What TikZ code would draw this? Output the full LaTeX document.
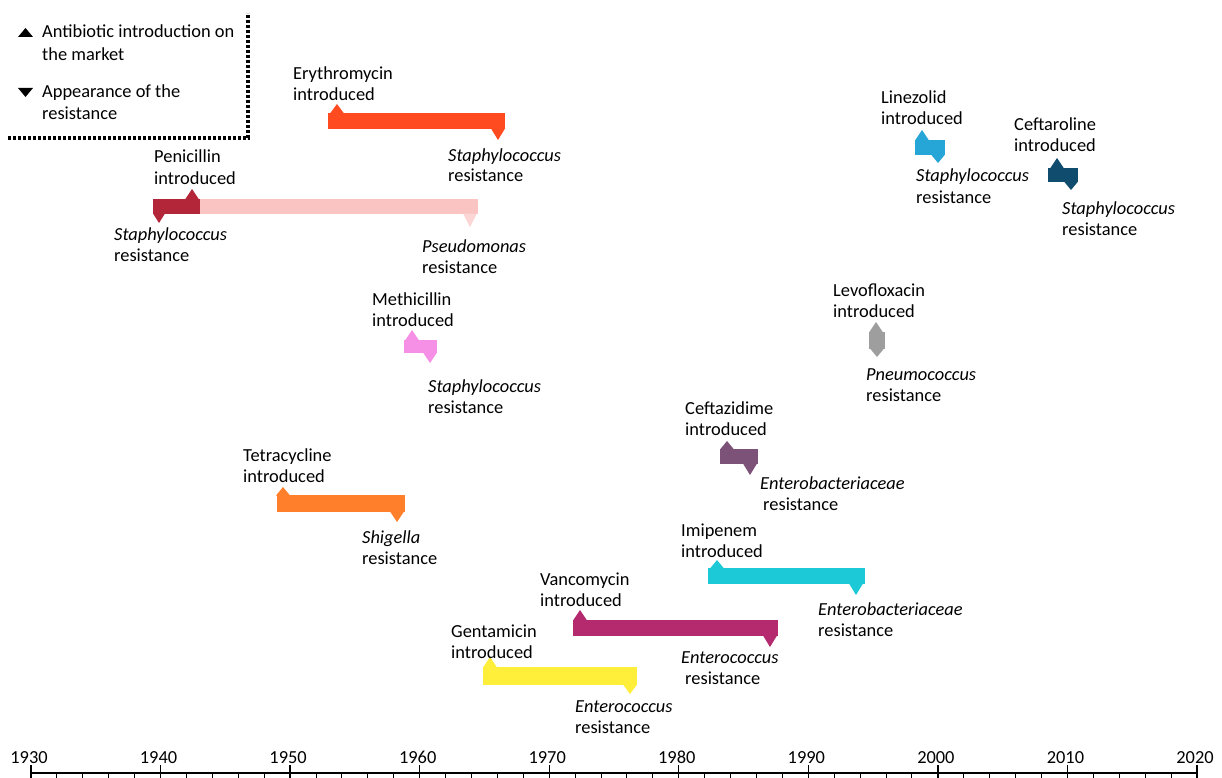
\documentclass[tikz,border=0pt]{standalone}
\usepackage{fontspec}
\setmainfont{Carlito}
\definecolor{ery}{HTML}{FF4B1F}
\definecolor{penD}{HTML}{B3263A}
\definecolor{penL}{HTML}{F9C4C2}
\definecolor{meth}{HTML}{F590E6}
\definecolor{tet}{HTML}{FF7F2A}
\definecolor{gen}{HTML}{FFEF3A}
\definecolor{van}{HTML}{B52A6E}
\definecolor{imi}{HTML}{1CC9D6}
\definecolor{cftz}{HTML}{7D5278}
\definecolor{levo}{HTML}{9E9E9E}
\definecolor{lin}{HTML}{25A6D6}
\definecolor{cftr}{HTML}{0F4C6E}
\newcommand{\abbar}[9]{%
  \fill[#1] (#2,#4) rectangle (#3,#5);
  \fill[#1] ({#6-7},#4+0.5) -- (#6,#7) -- ({#6+7},#4+0.5) -- cycle;
  \fill[#1] ({#8-7},#5-0.5) -- (#8,#9) -- ({#8+7},#5-0.5) -- cycle;
}
\tikzset{
  lbl/.style={anchor=base west, inner sep=0pt, font=\fontsize{18.4}{21}\selectfont},
  ilbl/.style={lbl, font=\fontsize{18.4}{21}\selectfont\itshape},
  yr/.style={anchor=base, inner sep=0pt, font=\fontsize{18.4}{21}\selectfont},
  legline/.style={line width=3.2pt, dash pattern=on 2.8pt off 2.2pt},
}
\begin{document}
\begin{tikzpicture}[x=1pt,y=-1pt]
\useasboundingbox[fill=white] (0,0) rectangle (1222,778);
% legend
\draw[legline] (8,138) -- (248,138) -- (248,13);
\fill (18,37) -- (25.5,28) -- (33,37) -- cycle;
\fill (18,88) -- (25.5,97) -- (33,88) -- cycle;
\node[lbl] (leg1) at (42,38) {Antibiotic introduction on};
\node[lbl] (leg2) at (42,61) {the market};
\node[lbl] (leg3) at (42,98) {Appearance of the};
\node[lbl] (leg4) at (42,120) {resistance};
% Erythromycin
\abbar{ery}{328}{505}{113}{129}{337}{104}{498}{140}
\node[lbl] (eryA) at (293,80) {Erythromycin};
\node[lbl] (eryB) at (293,101) {introduced};
\node[ilbl] (eryC) at (448,161) {Staphylococcus};
\node[lbl] (eryD) at (448,182) {resistance};
% Penicillin
\fill[penL] (200,199) rectangle (478,214);
\fill[penL!70!white] (463,213.5) -- (470,227) -- (477,213.5) -- cycle;
\fill[penD] (153,199) rectangle (200,214);
\fill[penD] (185,199.5) -- (192,189) -- (199,199.5) -- cycle;
\fill[penD] (153,213.5) -- (159,223) -- (165,213.5) -- cycle;
\node[lbl] (penA) at (154,163) {Penicillin};
\node[lbl] (penB) at (154,184) {introduced};
\node[ilbl] (penC) at (114,240) {Staphylococcus};
\node[lbl] (penD) at (114,261) {resistance};
\node[ilbl] (penE) at (422,252) {Pseudomonas};
\node[lbl] (penF) at (422,273) {resistance};
% Methicillin
\abbar{meth}{404}{437}{340}{353}{412}{330}{430}{363}
\node[lbl] (metA) at (372,305) {Methicillin};
\node[lbl] (metB) at (372,326) {introduced};
\node[ilbl] (metC) at (428,392) {Staphylococcus};
\node[lbl] (metD) at (428,413) {resistance};
% Tetracycline
\abbar{tet}{277}{405}{495}{512}{283}{487}{397}{522}
\node[lbl] (tetA) at (243,461) {Tetracycline};
\node[lbl] (tetB) at (243,482) {introduced};
\node[ilbl] (tetC) at (362,543) {Shigella};
\node[lbl] (tetD) at (362,564) {resistance};
% Gentamicin
\abbar{gen}{483}{637}{667}{685}{490}{657}{630}{694}
\node[lbl] (genA) at (451,637) {Gentamicin};
\node[lbl] (genB) at (451,658) {introduced};
\node[ilbl] (genC) at (575,712) {Enterococcus};
\node[lbl] (genD) at (575,733) {resistance};
% Vancomycin
\abbar{van}{573}{778}{620}{636}{580}{610}{770}{647}
\node[lbl] (vanA) at (540,585) {Vancomycin};
\node[lbl] (vanB) at (540,606) {introduced};
\node[ilbl] (vanC) at (681,663) {Enterococcus};
\node[lbl] (vanD) at (685,684) {resistance};
% Imipenem
\abbar{imi}{708}{865}{568}{584}{717}{560}{856}{595}
\node[lbl] (imiA) at (681,536) {Imipenem};
\node[lbl] (imiB) at (681,557) {introduced};
\node[ilbl] (imiC) at (818,615) {Enterobacteriaceae};
\node[lbl] (imiD) at (818,636) {resistance};
% Ceftazidime
\abbar{cftz}{720}{758}{449}{464}{727}{441}{750}{475}
\node[lbl] (czA) at (685,414) {Ceftazidime};
\node[lbl] (czB) at (685,435) {introduced};
\node[ilbl] (czC) at (760,489) {Enterobacteriaceae};
\node[lbl] (czD) at (763,510) {resistance};
% Levofloxacin
\abbar{levo}{869}{885}{332}{349}{876}{322}{877}{357}
\node[lbl] (lvA) at (833,296) {Levofloxacin};
\node[lbl] (lvB) at (833,317) {introduced};
\node[ilbl] (lvC) at (866,380) {Pneumococcus};
\node[lbl] (lvD) at (866,401) {resistance};
% Linezolid
\abbar{lin}{915}{945}{140}{155}{922}{130}{938}{163}
\node[lbl] (lzA) at (881,104) {Linezolid};
\node[lbl] (lzB) at (881,125) {introduced};
\node[ilbl] (lzC) at (916,182) {Staphylococcus};
\node[lbl] (lzD) at (916,203) {resistance};
% Ceftaroline
\abbar{cftr}{1048}{1078}{168}{182}{1057}{158}{1071}{190}
\node[lbl] (ctA) at (1014,131) {Ceftaroline};
\node[lbl] (ctB) at (1014,152) {introduced};
\node[ilbl] (ctC) at (1062,214) {Staphylococcus};
\node[lbl] (ctD) at (1062,235) {resistance};
% axis
\draw[line width=1.3pt] (31,773) -- (1197,773);
\foreach \k in {0,...,45} {
  \draw[line width=1pt] ({31+\k*25.911},773) -- ({31+\k*25.911},779);
}
\foreach \k in {0,...,9} {
  \pgfmathtruncatemacro{\yy}{1930+10*\k}
  \draw[line width=1.3pt] ({31+\k*129.556},765) -- ({31+\k*129.556},779);
  \node[yr] (yr\yy) at ({29+\k*129.556},763) {\yy};
}
\end{tikzpicture}
\end{document}
